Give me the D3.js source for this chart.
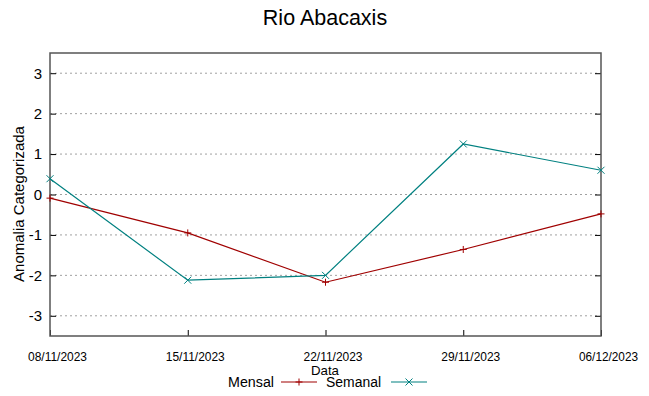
<!DOCTYPE html>
<html>
<head>
<meta charset="utf-8">
<script src="https://cdn.jsdelivr.net/npm/d3@7"></script>
<style>
  body { margin: 0; background: #fff; }
  text { font-family: "Liberation Sans", Arial, sans-serif; }
</style>
</head>
<body>
<svg id="chart" width="649" height="396"></svg>
<script>
//Data
var dates = ["08/11/2023", "15/11/2023", "22/11/2023", "29/11/2023", "06/12/2023"];
var mensal = [-0.09, -0.95, -2.17, -1.36, -0.48];
var semanal = [0.39, -2.12, -2.0, 1.25, 0.6];
var yTicks = [-3, -2, -1, 0, 1, 2, 3];

//Layout (plot frame)
var plotLeft = 50, plotRight = 601, plotTop = 53, plotBottom = 336;

var parse = d3.timeParse("%d/%m/%Y");
var fmt = d3.timeFormat("%d/%m/%Y");
var svg = d3.select("#chart");

var x = d3.scaleTime()
  .domain([parse(dates[0]), parse(dates[dates.length-1])])
  .range([plotLeft, plotRight]);
var y = d3.scaleLinear().domain([-3.5, 3.5]).range([plotBottom, plotTop]);

//grid
svg.append("g").selectAll("line").data(yTicks).enter().append("line")
  .attr("x1", plotLeft).attr("x2", plotRight)
  .attr("y1", function(d){ return y(d); }).attr("y2", function(d){ return y(d); })
  .attr("stroke", "#a0a0a0").attr("stroke-width", 1).attr("stroke-dasharray", "2,3");

//y axis left + mirrored right (plain hyphen minus like gnuplot)
var yAxis = svg.append("g").attr("transform", "translate(" + plotLeft + ",0)")
  .call(d3.axisLeft(y).tickValues(yTicks).tickSize(-6).tickPadding(8)
    .tickFormat(function(d){ return String(d); }));
yAxis.select(".domain").remove();
yAxis.selectAll("text").attr("font-size", 15).attr("fill", "#000");
var yAxisR = svg.append("g").attr("transform", "translate(" + plotRight + ",0)")
  .call(d3.axisRight(y).tickValues(yTicks).tickSize(-6).tickFormat(""));
yAxisR.select(".domain").remove();

//x axis
var xAxis = svg.append("g").attr("transform", "translate(0," + plotBottom + ")")
  .call(d3.axisBottom(x).tickValues(dates.map(parse)).tickSize(-6).tickPadding(16).tickFormat(fmt));
xAxis.select(".domain").remove();
xAxis.selectAll("text").attr("font-size", 12).attr("fill", "#000").attr("dx", 7)
  .attr("textLength", 59).attr("lengthAdjust", "spacingAndGlyphs");
svg.selectAll(".tick line").attr("stroke", "#000");

//frame
svg.append("rect").attr("x", plotLeft).attr("y", plotTop)
  .attr("width", plotRight - plotLeft).attr("height", plotBottom - plotTop)
  .attr("fill", "none").attr("stroke", "#555").attr("stroke-width", 1.5);

//series
var series = [
  {name: "Mensal", values: mensal, color: "#a00000", mark: "plus"},
  {name: "Semanal", values: semanal, color: "#008080", mark: "cross"}
];
var line = d3.line()
  .x(function(d, i){ return x(parse(dates[i])); })
  .y(function(d){ return y(d); });
var plusPath = "M-3.5,0H3.5M0,-3.5V3.5", crossPath = "M-3.5,-3.5L3.5,3.5M-3.5,3.5L3.5,-3.5";

series.forEach(function(s){
  svg.append("path").datum(s.values).attr("d", line)
    .attr("fill", "none").attr("stroke", s.color).attr("stroke-width", 1.2);
  svg.append("g").selectAll("path").data(s.values).enter().append("path")
    .attr("transform", function(d, i){ return "translate(" + x(parse(dates[i])) + "," + y(d) + ")"; })
    .attr("d", s.mark == "plus" ? plusPath : crossPath)
    .attr("stroke", s.color).attr("stroke-width", 1).attr("fill", "none");
});

//title and labels
svg.append("text").attr("x", 325).attr("y", 25).attr("text-anchor", "middle")
  .attr("font-size", 21.5).text("Rio Abacaxis");
svg.append("text").attr("transform", "translate(24,204) rotate(-90)")
  .attr("text-anchor", "middle").attr("font-size", 15).text("Anomalia Categorizada");
svg.append("text").attr("x", 325).attr("y", 375)
  .attr("text-anchor", "middle").attr("font-size", 13.5)
  .attr("textLength", 28).attr("lengthAdjust", "spacingAndGlyphs").text("Data");

//legend
var legend = [
  {textStart: 228, textLen: 46, lineStart: 281, lineEnd: 317},
  {textStart: 326, textLen: 55, lineStart: 391, lineEnd: 427}
];
series.forEach(function(s, i){
  var L = legend[i];
  var ly = 382;
  svg.append("text").attr("x", L.textStart).attr("y", ly + 5)
    .attr("font-size", 14).attr("textLength", L.textLen).attr("lengthAdjust", "spacingAndGlyphs")
    .text(s.name);
  svg.append("line").attr("x1", L.lineStart).attr("x2", L.lineEnd).attr("y1", ly).attr("y2", ly)
    .attr("stroke", s.color).attr("stroke-width", 1.2);
  var mx = (L.lineStart + L.lineEnd) / 2;
  svg.append("path").attr("transform", "translate(" + mx + "," + ly + ")")
    .attr("d", s.mark == "plus" ? plusPath : crossPath)
    .attr("stroke", s.color).attr("stroke-width", 1).attr("fill", "none");
});
</script>
</body>
</html>
